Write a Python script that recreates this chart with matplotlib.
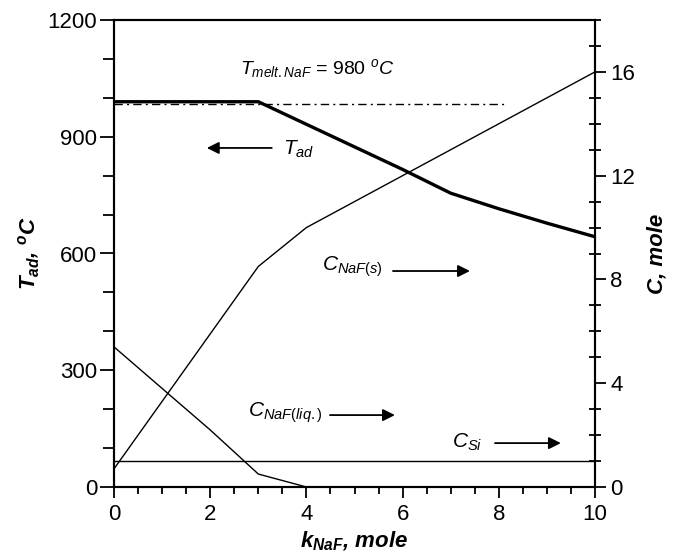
import matplotlib
matplotlib.use("Agg")
import matplotlib.pyplot as plt
from matplotlib.ticker import MultipleLocator

plt.rcParams['font.family'] = ['Liberation Sans', 'DejaVu Sans']
plt.rcParams['mathtext.fontset'] = 'custom'
plt.rcParams['mathtext.rm'] = 'Liberation Sans'
plt.rcParams['mathtext.it'] = 'Liberation Sans:italic'
plt.rcParams['mathtext.bf'] = 'Liberation Sans:bold:italic'

# data
k_tad = [0, 1, 2, 3, 4, 5, 6, 7, 8, 9, 10]
t_ad = [990, 990, 990, 990, 932, 874, 816, 755, 715, 678, 643]

k_melt = [0, 8.1]
t_melt = [985, 985]

k_s = [0, 1, 2, 3, 4, 10]
c_naf_s = [0.7, 3.3, 5.9, 8.5, 10.0, 16.0]

k_liq = [0, 1, 2, 3, 4]
c_naf_liq = [5.4, 3.8, 2.2, 0.5, 0.0]

k_si = [0, 10]
c_si = [1.0, 1.0]

fig = plt.figure(figsize=(6.78, 5.56), dpi=100)
ax = fig.add_axes([114/678, 69/556, 481/678, 467/556])
ax2 = ax.twinx()

ax.plot(k_tad, t_ad, color='black', lw=2.4, zorder=3)
ax.plot(k_melt, t_melt, color='black', lw=1.0, dashes=(6, 3, 1.5, 3))
ax2.plot(k_s, c_naf_s, color='black', lw=1.0)
ax2.plot(k_liq, c_naf_liq, color='black', lw=1.0)
ax2.plot(k_si, c_si, color='black', lw=1.0)

ax.set_xlim(0, 10)
ax.set_ylim(0, 1200)
ax2.set_ylim(0, 18)

ax.xaxis.set_major_locator(MultipleLocator(2))
ax.xaxis.set_minor_locator(MultipleLocator(0.5))
ax.yaxis.set_major_locator(MultipleLocator(300))
ax.yaxis.set_minor_locator(MultipleLocator(100))
ax2.yaxis.set_major_locator(MultipleLocator(4))
ax2.yaxis.set_minor_locator(MultipleLocator(1))

ax.tick_params(axis='x', which='major', direction='out', length=8, width=1.3, labelsize=16, pad=4)
ax.tick_params(axis='x', which='minor', direction='out', length=5, width=1.3)
ax.tick_params(axis='y', which='major', direction='out', length=10, width=1.3, labelsize=16, pad=2)
ax.tick_params(axis='y', which='minor', direction='out', length=8, width=1.3)
ax2.tick_params(axis='y', which='major', direction='out', length=8, width=1.3, labelsize=16, pad=3)
ax2.tick_params(axis='y', which='minor', direction='inout', length=8, width=1.3)

for a in (ax, ax2):
    for s in a.spines.values():
        s.set_linewidth(1.5)

ax.set_xlabel(r'$\mathbf{k}_{\mathbf{NaF}}$, mole', fontsize=16, fontweight='bold', style='italic', labelpad=4)
ax.set_ylabel(r'$\mathbf{T}_{\mathbf{ad}}$, $^{\mathbf{o}}$C', fontsize=16, fontweight='bold', style='italic', labelpad=4)
ax2.set_ylabel('C, mole', fontsize=16, fontweight='bold', style='italic', labelpad=8)

ax.text(0.262, 0.897, r'$T_{melt.NaF}$ = 980 $^{o}$$C$', transform=ax.transAxes,
        fontsize=14, va='center', ha='left')
ax.text(0.351, 0.722, r'$T_{ad}$', transform=ax.transAxes, fontsize=15, va='center', ha='left')
ax.text(0.432, 0.471, r'$C_{NaF(s)}$', transform=ax.transAxes, fontsize=15, va='center', ha='left')
ax.text(0.279, 0.158, r'$C_{NaF(liq.)}$', transform=ax.transAxes, fontsize=15, va='center', ha='left')
ax.text(0.703, 0.096, r'$C_{Si}$', transform=ax.transAxes, fontsize=15, va='center', ha='left')

arrows = [((0.328, 0.726), (0.193, 0.726)),
          ((0.580, 0.4625), (0.740, 0.4625)),
          ((0.449, 0.154), (0.584, 0.154)),
          ((0.792, 0.094), (0.929, 0.094))]
for start, end in arrows:
    ax.annotate('', xy=end, xytext=start, xycoords='axes fraction', textcoords='axes fraction',
                arrowprops=dict(arrowstyle='-|>', color='black', lw=1.3, mutation_scale=18,
                                shrinkA=0, shrinkB=0))

fig.savefig('out.png', dpi=100)
